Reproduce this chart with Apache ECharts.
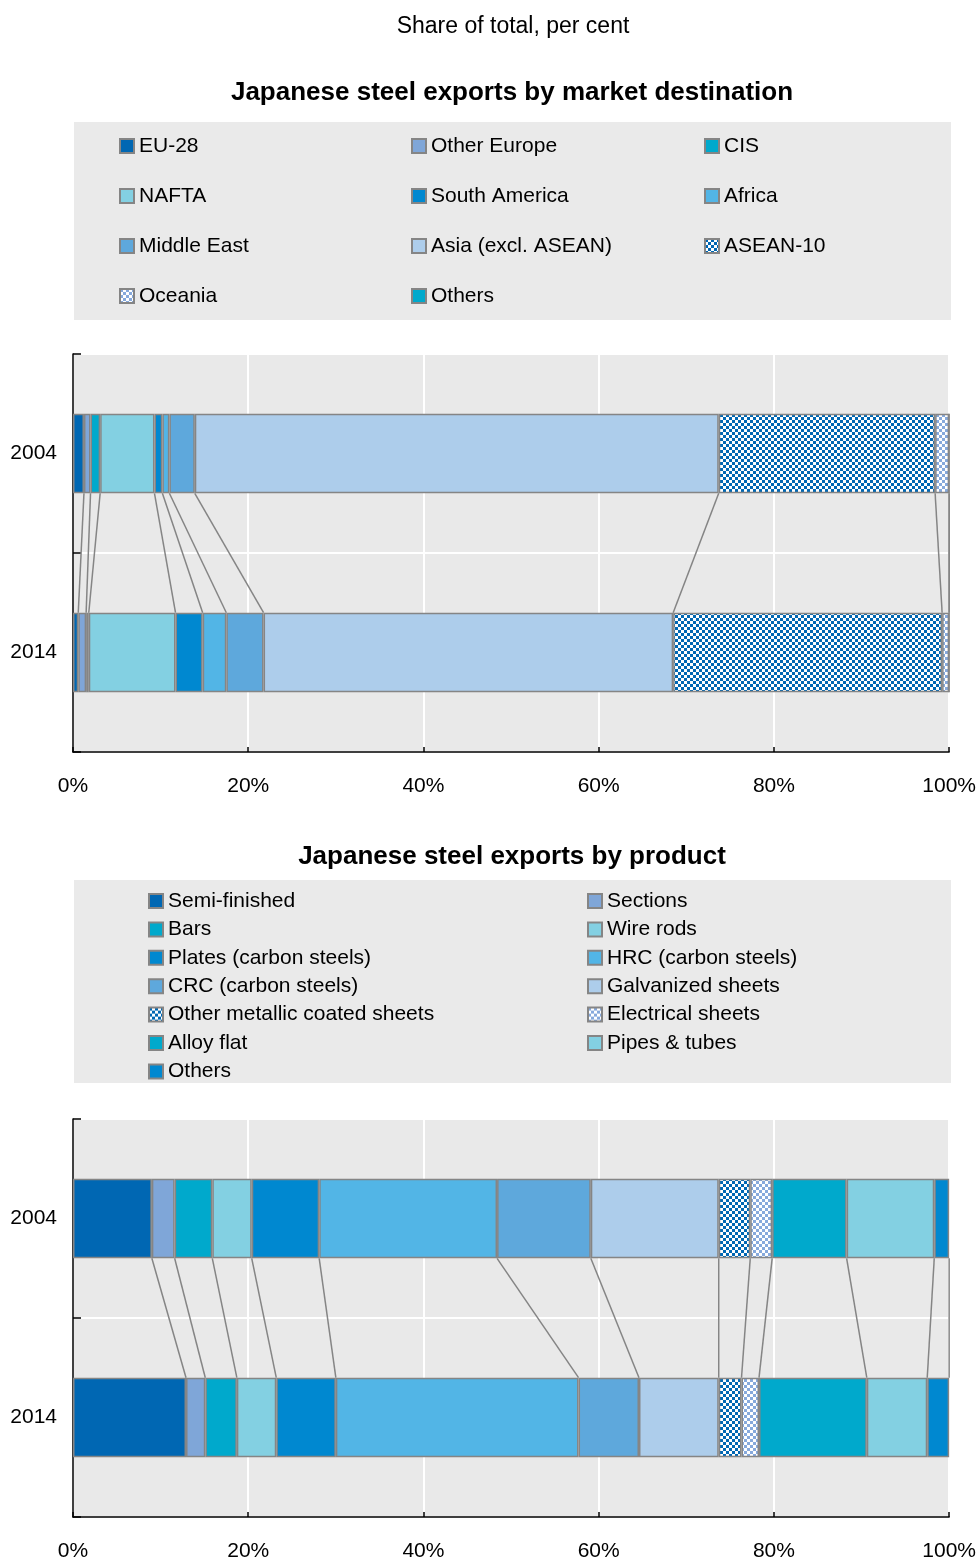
<!DOCTYPE html>
<html><head><meta charset="utf-8">
<script src="https://cdn.jsdelivr.net/npm/echarts@6/dist/echarts.min.js"></script>
<style>html,body{margin:0;padding:0;background:#fff;overflow:hidden}#c1{width:979px;height:815px}#c2{width:979px;height:748px}</style>
</head><body><div id="c1"></div><div id="c2"></div>
<script>
// ---------- DATA ----------
const years = ['2004', '2014'];
const xTickValues = [0, 20, 40, 60, 80, 100];

const marketNames = ['EU-28', 'Other Europe', 'CIS', 'NAFTA', 'South America', 'Africa', 'Middle East', 'Asia (excl. ASEAN)', 'ASEAN-10', 'Oceania', 'Others'];
const market2004 = [1.25, 0.75, 1.1, 6.2, 0.9, 0.8, 2.9, 59.8, 24.7, 1.6, 0];
const market2014 = [0.6, 0.9, 0.3, 9.9, 3.1, 2.7, 4.25, 46.75, 30.7, 0.8, 0];

const productNames = ['Semi-finished', 'Sections', 'Bars', 'Wire rods', 'Plates (carbon steels)', 'HRC (carbon steels)', 'CRC (carbon steels)', 'Galvanized sheets', 'Other metallic coated sheets', 'Electrical sheets', 'Alloy flat', 'Pipes & tubes', 'Others'];
const product2004 = [9.0, 2.6, 4.3, 4.5, 7.7, 20.3, 10.7, 14.6, 3.6, 2.5, 8.5, 10.0, 1.7];
const product2014 = [12.9, 2.2, 3.6, 4.5, 6.8, 27.7, 6.9, 9.1, 2.6, 2.0, 12.3, 6.9, 2.5];

// ---------- STYLE ----------
const FONT = '"Liberation Sans Narrow", "Arial Narrow", "Liberation Sans", sans-serif';
function checker(c) {
  const cv = document.createElement('canvas');
  cv.width = 6; cv.height = 6;
  const g = cv.getContext('2d');
  g.fillStyle = '#ffffff'; g.fillRect(0, 0, 6, 6);
  g.fillStyle = c; g.fillRect(0, 0, 3, 3); g.fillRect(3, 3, 3, 3);
  return { image: cv, repeat: 'repeat' };
}
const marketColors = ['#0067b3', '#7fa6d8', '#00a9cc', '#83d0e2', '#0088d0', '#52b5e6', '#5ea8dc', '#adcdeb', checker('#0067b3'), checker('#86a9dc'), '#00a9cc'];
const productColors = ['#0067b3', '#7fa6d8', '#00a9cc', '#83d0e2', '#0088d0', '#52b5e6', '#5ea8dc', '#adcdeb', checker('#0067b3'), checker('#86a9dc'), '#00a9cc', '#83d0e2', '#0088d0'];

function cumul(arr) { let s = 0; return arr.map(v => (s += v)); }

function build(cfg) {
  const c1 = cumul(cfg.v1), c2 = cumul(cfg.v2);
  const series = cfg.names.map((n, i) => ({
    name: n, type: 'bar', stack: 'a', barWidth: '40%',
    data: [cfg.v1[i], cfg.v2[i]],
    itemStyle: { color: cfg.colors[i], borderColor: '#858585', borderWidth: 1.5 },
    emphasis: { disabled: true }, silent: true
  }));
  series.push({
    type: 'custom', silent: true, clip: false, z: 5,
    encode: { x: [0, 1], y: 2 },
    data: c1.map((v, i) => [v, c2[i], 0]),
    renderItem: (params, api) => {
      const a = api.coord([api.value(0), 0]);
      const b = api.coord([api.value(1), 1]);
      const h = api.size([0, 1])[1] * 0.4 / 2;
      return { type: 'line', shape: { x1: a[0], y1: a[1] + h, x2: b[0], y2: b[1] - h }, style: { stroke: '#858585', lineWidth: 1.5 } };
    }
  });
  const legends = cfg.cols.map(col => ({
    orient: 'vertical', left: col.left, top: cfg.legendTop, padding: 0,
    icon: 'rect', itemWidth: 14, itemHeight: 14, itemGap: cfg.legendGap, selectedMode: false,
    data: col.items,
    textStyle: { fontFamily: FONT, fontSize: 21, color: '#000', lineHeight: 24, padding: [0, 0, 0, 0] }
  }));
  const graphic = [
    { type: 'rect', silent: true, z: -10, shape: { x: 74, y: cfg.boxY, width: 877, height: cfg.boxH }, style: { fill: '#eaeaea' } },
    { type: 'text', silent: true, x: 512, y: cfg.titleY, style: { text: cfg.title, fontFamily: FONT, fontWeight: 'bold', fontSize: 26, fill: '#000', textAlign: 'center', textVerticalAlign: 'middle' } }
  ];
  if (cfg.subtitle) graphic.push({ type: 'text', silent: true, x: 513, y: 27, style: { text: cfg.subtitle, fontFamily: '"Liberation Sans", Arial, sans-serif', fontSize: 23, fill: '#000', textAlign: 'center', textVerticalAlign: 'middle' } });
  return {
    animation: false,
    backgroundColor: '#fff',
    graphic: graphic,
    legend: legends,
    grid: { left: 73, width: 878, top: cfg.gridTop, height: 398, show: true, backgroundColor: '#e9e9e9', borderWidth: 0 },
    xAxis: {
      type: 'value', min: 0, max: 100, interval: 20,
      axisLine: { show: true, lineStyle: { color: '#000', width: 1.5 } },
      axisTick: { show: true, inside: true, length: 5, lineStyle: { color: '#000', width: 1.5 } },
      splitLine: { show: true, lineStyle: { color: '#ffffff', width: 2 } },
      axisLabel: { formatter: v => (xTickValues.includes(v) ? v + '%' : ''), fontFamily: FONT, fontSize: 21, color: '#000', margin: 24 }
    },
    yAxis: {
      type: 'category', inverse: true, data: years,
      axisLine: { show: true, lineStyle: { color: '#000', width: 1.5 } },
      axisTick: { show: true, inside: true, length: 8, lineStyle: { color: '#000', width: 1.5 } },
      splitLine: { show: true, lineStyle: { color: '#ffffff', width: 2 } },
      axisLabel: { fontFamily: FONT, fontSize: 21, color: '#000', margin: 16 }
    },
    series: series
  };
}

const ch1 = echarts.init(document.getElementById('c1'), null, { renderer: 'canvas', width: 979, height: 815 });
ch1.setOption(build({
  names: marketNames, v1: market2004, v2: market2014, colors: marketColors,
  title: 'Japanese steel exports by market destination', titleY: 93,
  subtitle: 'Share of total, per cent',
  boxY: 122, boxH: 198, gridTop: 354,
  legendTop: 134, legendGap: 26,
  cols: [
    { left: 119, items: ['EU-28', 'NAFTA', 'Middle East', 'Oceania'] },
    { left: 411, items: ['Other Europe', 'South America', 'Asia (excl. ASEAN)', 'Others'] },
    { left: 704, items: ['CIS', 'Africa', 'ASEAN-10'] }
  ]
}));

const ch2 = echarts.init(document.getElementById('c2'), null, { renderer: 'canvas', width: 979, height: 748 });
ch2.setOption(build({
  names: productNames, v1: product2004, v2: product2014, colors: productColors,
  title: 'Japanese steel exports by product', titleY: 42,
  boxY: 65, boxH: 203, gridTop: 304,
  legendTop: 74, legendGap: 4.4,
  cols: [
    { left: 148, items: ['Semi-finished', 'Bars', 'Plates (carbon steels)', 'CRC (carbon steels)', 'Other metallic coated sheets', 'Alloy flat', 'Others'] },
    { left: 587, items: ['Sections', 'Wire rods', 'HRC (carbon steels)', 'Galvanized sheets', 'Electrical sheets', 'Pipes & tubes'] }
  ]
}));
</script>
</body></html>
